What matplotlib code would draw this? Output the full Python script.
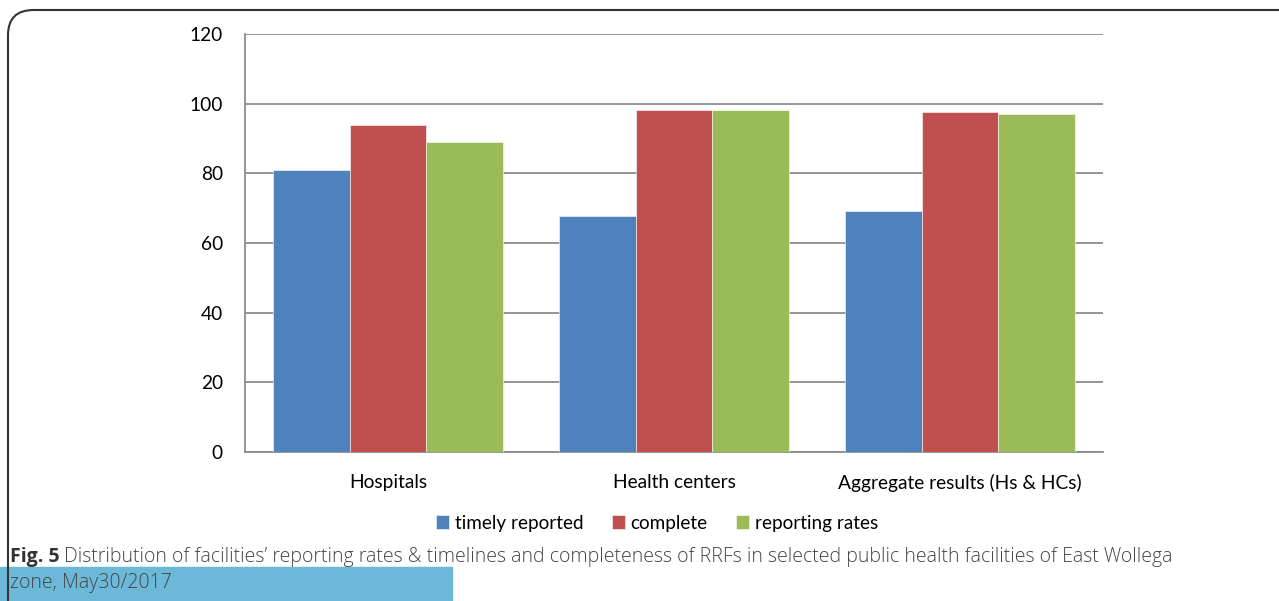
import numpy as np
import matplotlib.pyplot as plt
from matplotlib.patches import FancyBboxPatch, Rectangle

categories = ['Hospitals', 'Health centers', 'Aggregate results (Hs & HCs)']
series_names = ['timely reported', 'complete', 'reporting rates']
timely = [81.0, 67.8, 69.3]
complete = [93.9, 98.3, 97.7]
reporting = [88.9, 98.3, 96.9]
y_ticks = [0, 20, 40, 60, 80, 100, 120]

colors = ['#4F81BD', '#C0504D', '#9BBB59']

plt.rcParams['font.family'] = ['Lato', 'DejaVu Sans']

fig = plt.figure(figsize=(12.79, 6.01), dpi=100)
ax = fig.add_axes([245 / 1279, 1 - 452 / 601, 858 / 1279, 418 / 601])

x = np.arange(len(categories))
w = 0.267
for k, (vals, c, name) in enumerate(zip([timely, complete, reporting], colors, series_names)):
    ax.bar(x + (k - 1) * w, vals, width=w, color=c, label=name,
           edgecolor='white', linewidth=0.4, zorder=3)

ax.set_xlim(-0.5, 2.5)
ax.set_ylim(0, 120)
ax.set_yticks(y_ticks)
ax.set_xticks(x)
ax.set_xticklabels(categories)
ax.tick_params(axis='both', length=0, labelsize=13.8, labelcolor='black')
ax.tick_params(axis='y', pad=16)
ax.tick_params(axis='x', pad=16)
ax.grid(axis='y', color='#8C8C8C', linewidth=1.3, zorder=0)
for s in ['top', 'right']:
    ax.spines[s].set_visible(False)
for s in ['left', 'bottom']:
    ax.spines[s].set_color('#8C8C8C')
    ax.spines[s].set_linewidth(1.3)

leg = fig.legend(loc='center', bbox_to_anchor=(657 / 1279, 1 - 523 / 601), ncol=3,
                 frameon=False, fontsize=13.6, handlelength=0.7, handleheight=0.7,
                 handletextpad=0.3, columnspacing=1.5)

# figure frame with rounded corner
frame = FancyBboxPatch((8 / 1279, -0.2), 1.2, 1 - 10 / 601 + 0.2,
                       boxstyle='round,pad=0,rounding_size=0.02',
                       transform=fig.transFigure, fill=False,
                       edgecolor='#333333', linewidth=1.5, mutation_aspect=2.1)
fig.patches.append(frame)

fig.patches.append(Rectangle((0, 0), 452 / 1279, 34 / 601, transform=fig.transFigure,
                             color='#6CB8D9', zorder=0))

cap = dict(fontsize=14.05, family=['Open Sans', 'DejaVu Sans'], va='center')
fig.text(10 / 1279, 1 - 557 / 601, 'Fig. 5', fontweight='bold', color='#333333', **cap)
fig.text(64 / 1279, 1 - 557 / 601,
         "Distribution of facilities\u2019 reporting rates & timelines and completeness of RRFs in selected public health facilities of East Wollega",
         fontweight='light', color='#444444', **cap)
fig.text(10 / 1279, 1 - 583 / 601, 'zone, May30/2017', fontweight='light',
         color='#444444', zorder=5, **cap)

fig.savefig('out.png', dpi=100)
